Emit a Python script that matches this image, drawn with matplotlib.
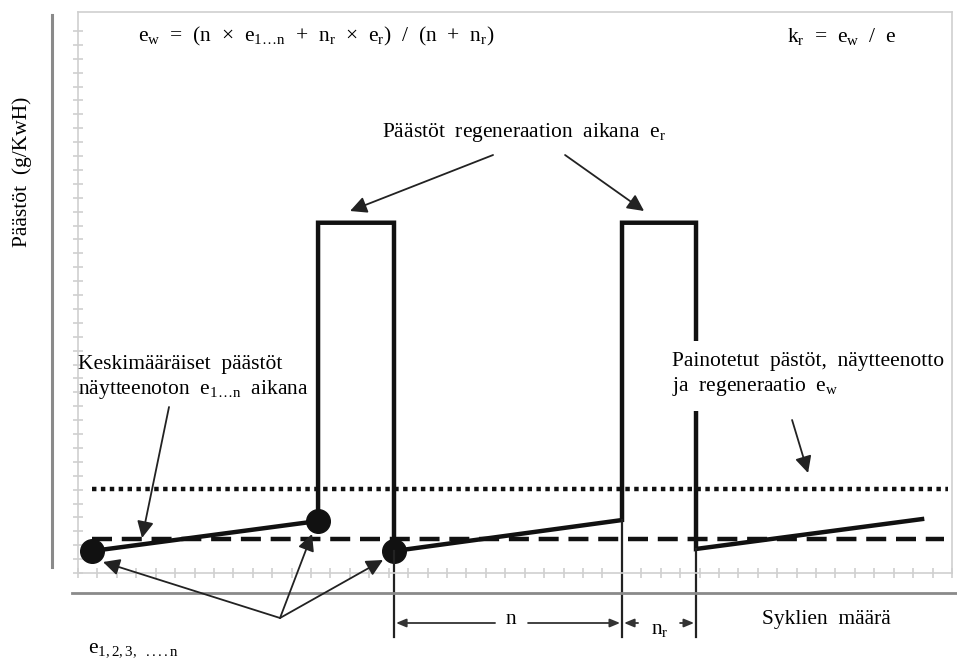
import numpy as np
import matplotlib.pyplot as plt

plt.rcParams['font.family'] = ['Liberation Serif', 'DejaVu Serif']
plt.rcParams['mathtext.fontset'] = 'stix'

# emission profile (cycle count, emission)
cycles = [0.72, 12.36, 12.36, 16.27, 16.27, 28.01, 28.01, 31.82, 31.82, 43.46]
emission = [1.58, 3.74, 25.2, 25.2, 1.58, 3.81, 25.2, 25.2, 1.73, 3.88]
dot_cycles = [0.72, 12.36, 16.27]
dot_emission = [1.58, 3.74, 1.58]
e_mean = 2.45       # dashed line, e
e_weighted = 6.04   # dotted line, e_w
dotted_span = [0.72, 44.8]
dashed_span = [0.72, 44.6]
n_start, n_end, nr_end = 16.27, 28.01, 31.82

# pixel -> data helper for annotations (axes spans px 78..952, 573..12)
def P(x, y):
    return ((x - 78) / 19.42, (573 - y) / 13.9)

fig = plt.figure(figsize=(9.57, 6.62), dpi=100)
ax = fig.add_axes([78 / 957, 1 - 573 / 662, 874 / 957, 561 / 662])
ax.set_xlim(0, 45.0)
ax.set_ylim(0, 40.36)

light = '#cfcfcf'
for s in ax.spines.values():
    s.set_color(light)
    s.set_linewidth(1.2)
ax.set_xticks(np.arange(0, 45.1, 1))
ax.set_yticks(np.arange(0, 39.5, 1))
ax.tick_params(direction='inout', length=7, color=light, width=1.2,
               labelbottom=False, labelleft=False, top=False, right=False)

# reference levels
ax.plot(dotted_span, [e_weighted, e_weighted], color='#111111', lw=3.2,
        linestyle=(0, (1, 1)))
ax.plot(dashed_span, [e_mean, e_mean], color='#111111', lw=3.2,
        linestyle=(0, (4.5, 2.2)))

# emission curve
ax.plot(cycles, emission, color='#111111', lw=3.2, solid_joinstyle='miter')
ax.plot(dot_cycles, dot_emission, 'o', color='#111111', ms=17)

# thin extensions down to the cycle count dimension
for xv, yv in [(n_start, 1.58), (n_end, 3.81), (nr_end, 1.73)]:
    ax.plot([xv, xv], [yv, P(0, 637)[1]], color='#222222', lw=1.6, clip_on=False)

# outer frame lines
ax.plot([P(52, 0)[0]] * 2, [P(0, 15)[1], P(0, 567)[1]], color='#8a8a8a', lw=2.2,
        clip_on=False)
ax.plot([P(72, 0)[0], P(957, 0)[0]], [P(0, 593)[1]] * 2, color='#8a8a8a', lw=2,
        clip_on=False)

black_head = dict(arrowstyle='-|>,head_length=1.0,head_width=0.5', color='#222222',
                  lw=1.3, shrinkA=0, shrinkB=0)

# arrows to sampling points
for tip in [(103, 562), (312, 534), (383, 560)]:
    ax.annotate('', xy=P(*tip), xytext=P(280, 618), arrowprops=black_head,
                annotation_clip=False)

# regeneration arrows
ax.annotate('', xy=P(350, 211), xytext=P(493, 155), arrowprops=black_head)
ax.annotate('', xy=P(644, 211), xytext=P(565, 155), arrowprops=black_head)
# mean arrow
ax.annotate('', xy=P(142, 538), xytext=P(169, 407), arrowprops=black_head)
# weighted arrow
ax.annotate('', xy=P(808, 473), xytext=P(792, 420), arrowprops=black_head)

# dimension arrows n and n_r
dim = dict(arrowstyle='-|>,head_length=0.6,head_width=0.25', color='#333333',
           lw=1.3, shrinkA=0, shrinkB=0)
ax.annotate('', xy=P(396, 623), xytext=P(495, 623), arrowprops=dim, annotation_clip=False)
ax.annotate('', xy=P(620, 623), xytext=P(528, 623), arrowprops=dim, annotation_clip=False)
ax.annotate('', xy=P(624, 623), xytext=P(638, 623), arrowprops=dim, annotation_clip=False)
ax.annotate('', xy=P(694, 623), xytext=P(680, 623), arrowprops=dim, annotation_clip=False)

fs = 15.5
ax.text(*P(511, 620), 'n', fontsize=fs, ha='center', va='center')
ax.text(*P(660, 630), r'n$\mathregular{_r}$', fontsize=fs, ha='center', va='center')

# texts
ax.text(*P(138, 36), r'e$\mathregular{_w}$  =  (n  ×  e$\mathregular{_{1…n}}$  +  n$\mathregular{_r}$  ×  '
        r'e$\mathregular{_r}$)  /  (n  +  n$\mathregular{_r}$)', fontsize=fs, va='center')
ax.text(*P(787, 36), r'k$\mathregular{_r}$  =  e$\mathregular{_w}$  /  e', fontsize=fs,
        va='center')
ax.text(*P(382, 132), r'Päästöt  regeneraation  aikana  e$\mathregular{_r}$', fontsize=fs,
        va='center')
ax.text(*P(78, 378), 'Keskimääräiset  päästöt\nnäytteenoton  e$\\mathregular{_{1…n}}$  aikana',
        fontsize=fs, va='center', linespacing=1.2)
ax.text(*P(672, 375), 'Painotetut  pästöt,  näytteenotto\nja  regeneraatio  e$\\mathregular{_w}$',
        fontsize=fs, va='center', linespacing=1.2,
        bbox=dict(boxstyle='square,pad=0.6', fc='white', ec='none'), zorder=2.2)
ax.text(*P(762, 620), 'Syklien  määrä', fontsize=fs, va='center')
ax.text(*P(88, 650), r'e$\mathregular{_{1,2,3,\ \ ....n}}$', fontsize=fs, va='center')
ax.text(*P(22, 172), 'Päästöt  (g/KwH)', fontsize=fs, va='center', ha='center',
        rotation=90)

fig.savefig('out.png', dpi=100)
